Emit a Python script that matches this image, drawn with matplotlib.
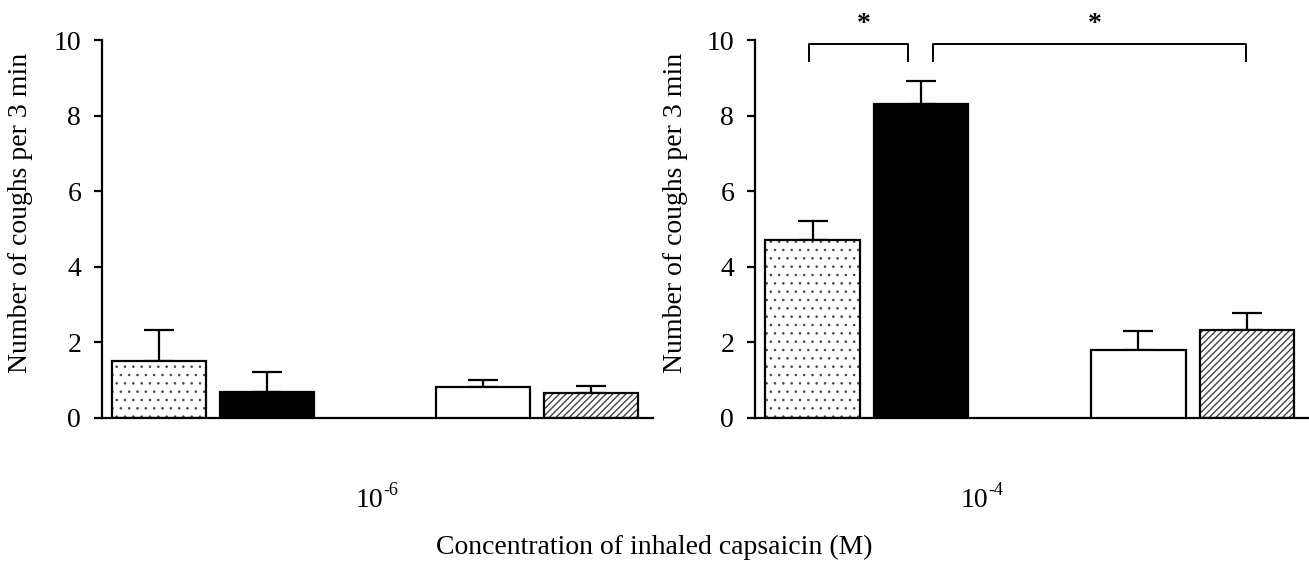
import matplotlib
matplotlib.use('Agg')
import matplotlib.pyplot as plt

plt.rcParams['font.family'] = 'Liberation Serif'

# bar positions within each panel (gap between the 2nd and 3rd bar)
positions = [0, 1, 3, 4]
hatches = ['..', None, None, '/////']
faces = ['white', 'black', 'white', 'white']

# 10^-6 M capsaicin
means_low = [1.50, 0.67, 0.80, 0.66]
sem_low = [0.83, 0.55, 0.20, 0.17]

# 10^-4 M capsaicin
means_high = [4.70, 8.31, 1.78, 2.33]
sem_high = [0.51, 0.60, 0.51, 0.45]

yticks = [0, 2, 4, 6, 8, 10]
ylab = 'Number of coughs per 3 min'
fs = 20

fig = plt.figure(figsize=(13.09, 5.63), dpi=100)
ax1 = fig.add_axes([0.0779, 0.2583, 0.4209, 0.6703])
ax2 = fig.add_axes([0.5768, 0.2583, 0.4232, 0.6703])


def draw_panel(ax, means, sems):
    for x, m, s, h, fc in zip(positions, means, sems, hatches, faces):
        if h:
            # hatch layer in grey, outline drawn on top in black
            plt.rcParams['hatch.linewidth'] = 0.6 if h == '..' else 1.0
            ax.bar(x, m, width=0.87, color='white', edgecolor='#444444',
                   hatch=h, linewidth=0, zorder=2)
            ax.bar(x, m, width=0.87, fill=False, edgecolor='black',
                   linewidth=1.6, zorder=3)
        else:
            ax.bar(x, m, width=0.87, color=fc, edgecolor='black',
                   linewidth=1.6, zorder=3)
        ax.errorbar(x, m, yerr=[[0], [s]], fmt='none', ecolor='black',
                    elinewidth=1.6, capsize=11, capthick=1.6, zorder=1)
    ax.set_xlim(-0.53, 4.57)
    ax.set_ylim(0, 10)
    ax.set_yticks(yticks)
    ax.set_xticks([])
    ax.spines['top'].set_visible(False)
    ax.spines['right'].set_visible(False)
    ax.spines['left'].set_linewidth(1.6)
    ax.spines['bottom'].set_linewidth(1.6)
    ax.tick_params(axis='y', direction='out', length=6, width=1.6,
                   labelsize=fs, pad=9)


draw_panel(ax1, means_low, sem_low)
draw_panel(ax2, means_high, sem_high)

# y labels
fig.text(21 / 1309, 0.622, ylab, rotation=90, ha='center', va='center', fontsize=fs)
fig.text(675 / 1309, 0.622, ylab, rotation=90, ha='center', va='center', fontsize=fs)

# concentration labels
for ax, xpos, exp in [(ax1, 1.82, '-6'), (ax2, 1.36, '-4')]:
    t = ax.text(xpos, -2.2, '10', ha='left', va='center', fontsize=fs)
    ax.annotate(exp, xy=(1.0, 0.55), xycoords=t, ha='left', va='bottom',
                fontsize=13)

fig.text(0.5, 0.027, 'Concentration of inhaled capsaicin (M)', ha='center',
         va='center', fontsize=fs)

# significance brackets
brackets = [(-0.03, 0.88), (1.11, 3.99)]
for x0, x1 in brackets:
    ax2.plot([x0, x0, x1, x1], [9.46, 9.9, 9.9, 9.46], color='black',
             linewidth=1.4, clip_on=False)
    ax2.text((x0 + x1) / 2 + 0.05, 10.42, '*', ha='center', va='center',
             fontsize=fs, fontweight='bold', clip_on=False)

fig.savefig('out.png', dpi=100)
